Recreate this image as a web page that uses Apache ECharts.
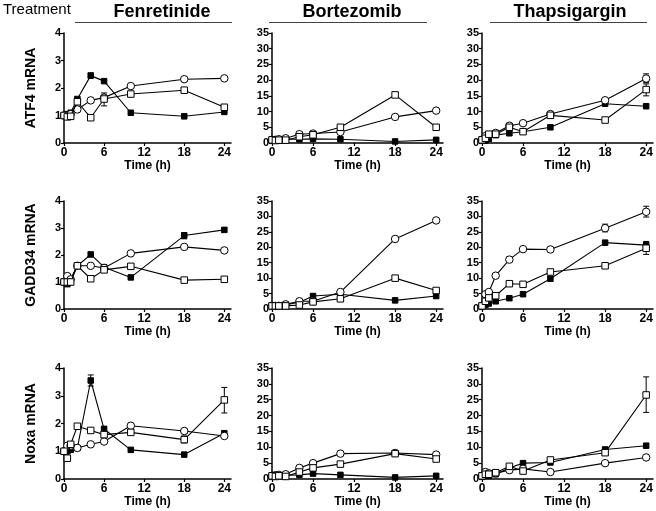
<!DOCTYPE html>
<html>
<head>
<meta charset="utf-8">
<script src="https://cdn.jsdelivr.net/npm/echarts@6/dist/echarts.min.js"></script>
<style>html,body{margin:0;padding:0;background:#fff;}#c{width:656px;height:511px;}</style>
</head>
<body>
<div id="c"></div>
<script>
// ---- data ----
const times = [0, 0.5, 1, 2, 4, 6, 10, 18, 24];
const treatments = ['Fenretinide', 'Bortezomib', 'Thapsigargin'];
const genes = ['ATF4 mRNA', 'GADD34 mRNA', 'Noxa mRNA'];
const xTicks = [0, 6, 12, 18, 24];
const yTicksSmall = [0, 1, 2, 3, 4];
const yTicksLarge = [0, 5, 10, 15, 20, 25, 30, 35];

// series: filled squares / open circles / open squares
const atf4_fen_filled = [1.0, 1.05, 1.1, 1.6, 2.45, 2.25, 1.1, 0.97, 1.13];
const atf4_fen_circle = [1.0, 1.0, 1.05, 1.22, 1.55, 1.65, 2.07, 2.32, 2.35];
const atf4_fen_square = [1.0, 0.95, 0.97, 1.5, 0.92, 1.6, 1.78, 1.92, 1.3];
const atf4_bor_filled = [1.0, 1.0, 1.0, 1.2, 1.2, 1.3, 1.2, 0.5, 1.0];
const atf4_bor_circle = [1.0, 1.0, 1.2, 1.5, 2.8, 3.0, 3.5, 8.3, 10.3];
const atf4_bor_square = [1.0, 0.8, 0.9, 0.9, 2.0, 2.6, 5.0, 15.3, 5.0];
const atf4_tha_filled = [1.0, 0.8, 1.3, 2.5, 3.1, 3.6, 5.0, 12.5, 11.7];
const atf4_tha_circle = [1.0, 2.2, 2.5, 3.2, 5.5, 6.3, 9.2, 13.6, 20.5];
const atf4_tha_square = [1.0, 1.5, 2.8, 2.8, 5.0, 3.6, 8.8, 7.3, 17.0];

const gadd_fen_filled = [1.0, 0.92, 1.1, 1.6, 2.02, 1.55, 1.17, 2.72, 2.93];
const gadd_fen_circle = [1.0, 1.22, 1.1, 1.6, 1.6, 1.52, 2.06, 2.3, 2.17];
const gadd_fen_square = [1.0, 1.0, 1.0, 1.6, 1.12, 1.45, 1.58, 1.07, 1.1];
const gadd_bor_filled = [1.0, 1.0, 1.2, 1.4, 2.2, 4.2, 4.8, 2.8, 4.2];
const gadd_bor_circle = [1.0, 1.0, 1.0, 1.5, 2.5, 2.5, 5.5, 22.7, 28.7];
const gadd_bor_square = [1.0, 1.0, 1.0, 1.0, 1.3, 2.3, 3.3, 10.0, 6.0];
const gadd_tha_filled = [1.0, 1.3, 1.8, 2.5, 3.5, 4.8, 9.8, 21.5, 20.7];
const gadd_tha_circle = [1.0, 4.8, 5.5, 10.8, 16.0, 19.4, 19.3, 26.2, 31.5];
const gadd_tha_square = [1.0, 2.5, 3.6, 4.3, 8.2, 8.0, 12.0, 14.0, 19.7];

const noxa_fen_filled = [1.0, 1.0, 1.05, 1.12, 3.55, 1.8, 1.05, 0.88, 1.65];
const noxa_fen_circle = [1.0, 1.2, 1.2, 1.12, 1.25, 1.35, 1.92, 1.73, 1.55];
const noxa_fen_square = [1.0, 0.75, 1.25, 1.9, 1.75, 1.6, 1.68, 1.42, 2.85];
const noxa_bor_filled = [1.0, 1.0, 1.2, 1.2, 1.3, 1.7, 1.3, 0.5, 1.0];
const noxa_bor_circle = [1.0, 1.2, 1.3, 1.5, 3.5, 5.0, 8.0, 8.2, 7.7];
const noxa_bor_square = [1.0, 0.8, 1.0, 0.8, 2.2, 3.5, 4.7, 8.0, 6.3];
const noxa_tha_filled = [1.0, 1.0, 1.0, 1.5, 3.5, 5.0, 5.2, 9.3, 10.5];
const noxa_tha_circle = [1.0, 2.2, 1.8, 1.8, 2.8, 3.2, 2.2, 5.0, 6.8];
const noxa_tha_square = [1.0, 1.5, 1.5, 2.0, 4.0, 2.5, 6.0, 8.3, 26.5];

// error bars: [row, col, time, low, high]
const errorBars = [
  [0, 0, 6, 1.35, 1.82], [0, 0, 4, 2.38, 2.55],
  [0, 2, 24, 19.2, 22.0], [0, 2, 24, 15.0, 18.8],
  [1, 0, 18, 2.6, 2.83], [1, 0, 24, 2.85, 3.0], [1, 0, 4, 1.95, 2.1],
  [1, 2, 24, 29.8, 33.3], [1, 2, 18, 25.0, 27.5], [1, 2, 24, 19.4, 21.9], [1, 2, 24, 17.7, 21.5], [1, 2, 4, 15.3, 16.8],
  [2, 0, 4, 3.35, 3.75], [2, 0, 24, 2.38, 3.3], [2, 0, 18, 1.3, 1.55], [2, 0, 18, 1.65, 1.82], [2, 0, 6, 1.7, 1.9],
  [2, 2, 24, 21.0, 32.2], [2, 2, 18, 8.5, 10.0]
];

const panelData = [
  [[atf4_fen_filled, atf4_fen_circle, atf4_fen_square], [atf4_bor_filled, atf4_bor_circle, atf4_bor_square], [atf4_tha_filled, atf4_tha_circle, atf4_tha_square]],
  [[gadd_fen_filled, gadd_fen_circle, gadd_fen_square], [gadd_bor_filled, gadd_bor_circle, gadd_bor_square], [gadd_tha_filled, gadd_tha_circle, gadd_tha_square]],
  [[noxa_fen_filled, noxa_fen_circle, noxa_fen_square], [noxa_bor_filled, noxa_bor_circle, noxa_bor_square], [noxa_tha_filled, noxa_tha_circle, noxa_tha_square]]
];

// ---- layout ----
const cols = [{left: 64, width: 167}, {left: 272, width: 171}, {left: 482, width: 171}];
const rows = [{top: 33, height: 110}, {top: 201, height: 108}, {top: 368, height: 111}];
const FONT = 'Arial, "Liberation Sans", sans-serif';

const grids = [], xAxes = [], yAxes = [], series = [];
const markerStyles = [
  {symbol: 'rect', symbolSize: 5.5, itemStyle: {color: '#000', borderColor: '#000', borderWidth: 1}},
  {symbol: 'circle', symbolSize: 7.5, itemStyle: {color: '#fff', borderColor: '#000', borderWidth: 1}},
  {symbol: 'rect', symbolSize: 6.5, itemStyle: {color: '#fff', borderColor: '#000', borderWidth: 1}}
];

for (let r = 0; r < 3; r++) {
  for (let c = 0; c < 3; c++) {
    const idx = r * 3 + c;
    const small = c === 0;
    grids.push({left: cols[c].left, top: rows[r].top, width: cols[c].width, height: rows[r].height, containLabel: false});
    const axisLine = {show: true, onZero: false, lineStyle: {color: '#000', width: 1.5}};
    xAxes.push({
      type: 'value', gridIndex: idx, min: 0, max: 25, interval: 6,
      axisLine: axisLine,
      axisTick: {show: true, length: 3, lineStyle: {color: '#000', width: 1.2}, customValues: xTicks},
      axisLabel: {color: '#000', fontWeight: 'bold', fontSize: 12, fontFamily: FONT, margin: 4, customValues: xTicks},
      splitLine: {show: false},
      name: 'Time (h)', nameLocation: 'middle', nameGap: 17,
      nameTextStyle: {color: '#000', fontWeight: 'bold', fontSize: 12, fontFamily: FONT}
    });
    const ySpec = {
      type: 'value', gridIndex: idx, min: 0, max: small ? 4 : 35, interval: small ? 1 : 5,
      axisLine: axisLine,
      axisTick: {show: true, length: 3, lineStyle: {color: '#000', width: 1.2}, customValues: small ? yTicksSmall : yTicksLarge},
      axisLabel: {color: '#000', fontWeight: 'bold', fontSize: 11, fontFamily: FONT, margin: 3, customValues: small ? yTicksSmall : yTicksLarge},
      splitLine: {show: false}
    };
    if (c === 0) {
      ySpec.name = genes[r];
      ySpec.nameLocation = 'middle';
      ySpec.nameGap = 26;
      ySpec.nameTextStyle = {color: '#000', fontWeight: 'bold', fontSize: 14, fontFamily: FONT};
    }
    yAxes.push(ySpec);
    const order = [0, 2, 1];
    order.forEach(s => {
      const vals = panelData[r][c][s];
      series.push(Object.assign({
        type: 'line', xAxisIndex: idx, yAxisIndex: idx,
        data: times.map((t, i) => [t, vals[i]]),
        lineStyle: {color: '#000', width: 1.1},
        showAllSymbol: true, animation: false, z: 3 + s, silent: true
      }, markerStyles[s]));
    });
    const eb = errorBars.filter(e => e[0] === r && e[1] === c).map(e => [e[2], e[3], e[4]]);
    if (eb.length) {
      series.push({
        type: 'custom', xAxisIndex: idx, yAxisIndex: idx, data: eb, animation: false, z: 2, silent: true,
        renderItem: function (params, api) {
          const x = api.value(0);
          const lo = api.coord([x, api.value(1)]);
          const hi = api.coord([x, api.value(2)]);
          const w = 3;
          const st = {stroke: '#000', lineWidth: 1};
          return {type: 'group', children: [
            {type: 'line', shape: {x1: lo[0], y1: lo[1], x2: hi[0], y2: hi[1]}, style: st},
            {type: 'line', shape: {x1: lo[0] - w, y1: lo[1], x2: lo[0] + w, y2: lo[1]}, style: st},
            {type: 'line', shape: {x1: hi[0] - w, y1: hi[1], x2: hi[0] + w, y2: hi[1]}, style: st}
          ]};
        },
        encode: {x: 0, y: [1, 2]}
      });
    }
  }
}

const titleCenters = [162, 352, 570];
const lineSpans = [[75, 232], [269, 427], [490, 647]];
const graphics = [
  {type: 'text', left: 3, top: 2, style: {text: 'Treatment', font: '15px ' + FONT, fill: '#000'}}
];
treatments.forEach((t, i) => {
  graphics.push({type: 'text', x: titleCenters[i], y: 12, style: {text: t, font: 'bold 18px ' + FONT, fill: '#000', textAlign: 'center', textVerticalAlign: 'middle'}});
  graphics.push({type: 'line', shape: {x1: lineSpans[i][0], y1: 22.5, x2: lineSpans[i][1], y2: 22.5}, style: {stroke: '#444', lineWidth: 1}});
});

const chart = echarts.init(document.getElementById('c'), null, {renderer: 'canvas'});
chart.setOption({
  backgroundColor: '#fff',
  animation: false,
  grid: grids, xAxis: xAxes, yAxis: yAxes, series: series,
  graphic: graphics
});
</script>
</body>
</html>
